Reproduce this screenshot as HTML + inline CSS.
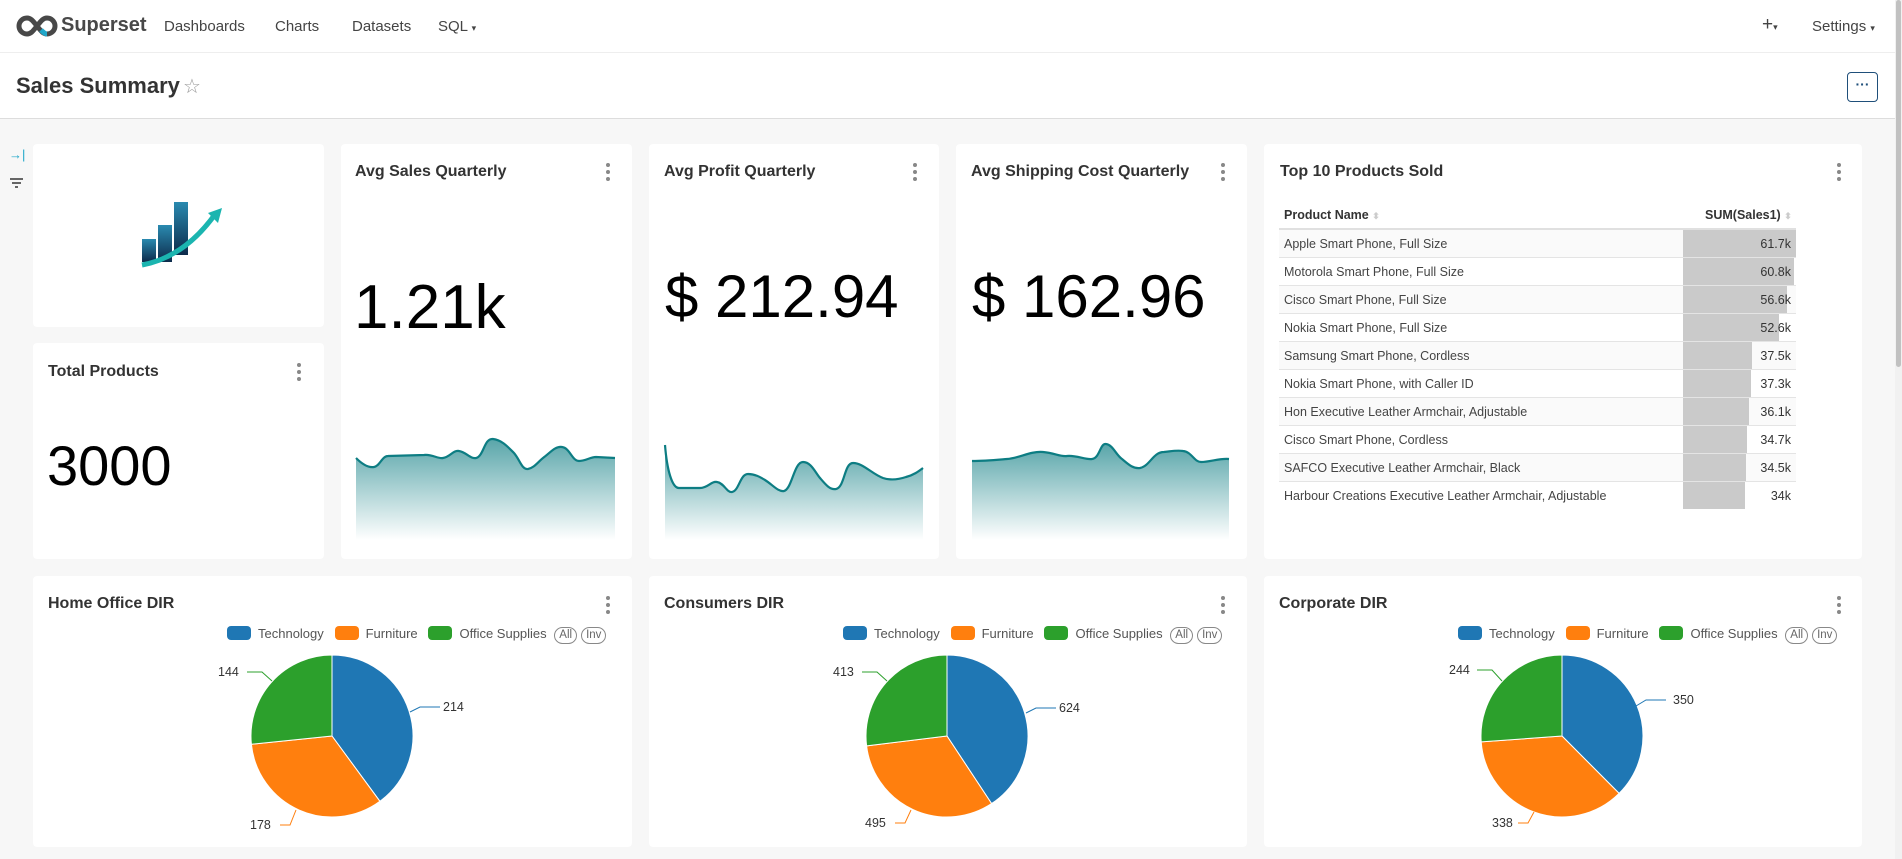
<!DOCTYPE html>
<html><head><meta charset="utf-8"><style>
*{margin:0;padding:0;box-sizing:border-box}
body{width:1902px;height:859px;overflow:hidden;background:#f7f7f7;font-family:"Liberation Sans",sans-serif;color:#333;position:relative}
.a{position:absolute}
.card{position:absolute;background:#fff;border-radius:4px}
.t{position:absolute;font-size:16px;font-weight:bold;color:#333;white-space:nowrap}
.keb{position:absolute;width:4px}
.keb i{display:block;width:4px;height:4px;border-radius:2px;background:#888;margin-bottom:3px}
.nav{font-size:15px;color:#444;position:absolute;top:18px}
.big{position:absolute;font-size:62px;color:#000;white-space:nowrap}
.row{position:absolute;left:1279px;width:517px;height:28px;border-bottom:1px solid #e4e4e4;font-size:12.5px;color:#444}
.row span{position:absolute;left:5px;top:7px}
.row .bar{position:absolute;left:404px;top:0;height:27px;background:#cacaca}
.row b{position:absolute;right:5px;top:7px;font-weight:normal;color:#333}
.lg{position:absolute;font-size:13px;color:#555;white-space:nowrap}
.box{display:inline-block;width:24px;height:14px;border-radius:4px;vertical-align:-2px;margin-right:7px}
.pill{display:inline-block;border:1px solid #888;border-radius:9px;font-size:11.5px;padding:0 4px;height:17px;line-height:15px;color:#666;margin-left:4px}
</style></head><body>
<div class="a" style="left:0;top:0;width:1902px;height:53px;background:#fff;border-bottom:1px solid #eee"></div>
<svg class="a" style="left:16px;top:15px" width="42" height="22" viewBox="0 0 42 22"><path d="M11 3a8 8 0 1 0 0 16c4 0 6-3 10-8s6-8 10-8a8 8 0 1 1 0 16c-4 0-6-3-10-8S15 3 11 3z" fill="none" stroke="#484848" stroke-width="5"/><path d="M25 15c2 2 4 4 6 4" stroke="#20a7c9" stroke-width="5" fill="none"/></svg>
<div class="a" style="left:61px;top:14px;font-size:20px;font-weight:bold;color:#484848">Superset</div>
<div class="nav" style="left:164px">Dashboards</div>
<div class="nav" style="left:275px">Charts</div>
<div class="nav" style="left:352px">Datasets</div>
<div class="nav" style="left:438px">SQL <span style="font-size:9px">▾</span></div>
<div class="nav" style="left:1762px;font-size:19px;top:14px">+<span style="font-size:9px">▾</span></div>
<div class="nav" style="left:1812px">Settings <span style="font-size:9px">▾</span></div>
<div class="a" style="left:0;top:53px;width:1902px;height:66px;background:#fff;border-bottom:1px solid #ddd"></div>
<div class="a" style="left:16px;top:73px;font-size:22px;font-weight:bold;color:#333">Sales Summary</div>
<div class="a" style="left:183px;top:74px;font-size:20px;color:#999">☆</div>
<div class="a" style="left:1847px;top:72px;width:31px;height:30px;border:1px solid #1f4f7a;border-radius:4px;text-align:center;font-size:14px;font-weight:bold;color:#1f4f7a;line-height:22px">···</div>
<div class="a" style="left:1895px;top:0;width:7px;height:859px;background:#f1f1f1"></div>
<div class="a" style="left:1896px;top:0;width:5px;height:367px;background:#c1c1c1;border-radius:3px"></div>
<div class="a" style="left:9px;top:147px;font-size:13px;color:#20a7c9">→|</div>
<div class="a" style="left:10px;top:178px;width:13px;height:2px;background:#666"></div>
<div class="a" style="left:12px;top:182px;width:9px;height:2px;background:#666"></div>
<div class="a" style="left:15px;top:186px;width:3px;height:2px;background:#666"></div>
<div class="card" style="left:33px;top:144px;width:291px;height:183px"></div>
<svg class="a" style="left:130px;top:195px" width="100" height="80">
<defs><linearGradient id="bg" x1="0" y1="0" x2="0" y2="1"><stop offset="0" stop-color="#2a8ab0"/><stop offset="1" stop-color="#0d2a4a"/></linearGradient></defs>
<rect x="12" y="44" width="14" height="23" fill="url(#bg)"/><rect x="28" y="30" width="14" height="37" fill="url(#bg)"/><rect x="44" y="7" width="14" height="53" fill="url(#bg)"/>
<path d="M12 70 Q55 62 86 18" stroke="#1bb5b0" stroke-width="5" fill="none"/><path d="M78 18 L92 13 L88 28Z" fill="#1bb5b0"/></svg>
<div class="card" style="left:33px;top:343px;width:291px;height:216px"></div>
<div class="t" style="left:48px;top:363px">Total Products</div>
<div class="keb" style="left:297px;top:363px"><i></i><i></i><i></i></div>
<div class="big" style="left:47px;top:433px;font-size:56px">3000</div>
<div class="card" style="left:341px;top:144px;width:291px;height:415px"></div>
<div class="t" style="left:355px;top:163px">Avg Sales Quarterly</div>
<div class="keb" style="left:606px;top:163px"><i></i><i></i><i></i></div>
<div class="big" style="left:354px;top:272px">1.21k</div>
<div class="card" style="left:649px;top:144px;width:290px;height:415px"></div>
<div class="t" style="left:664px;top:163px">Avg Profit Quarterly</div>
<div class="keb" style="left:913px;top:163px"><i></i><i></i><i></i></div>
<div class="big" style="left:665px;top:262px;font-size:60px">$ 212.94</div>
<div class="card" style="left:956px;top:144px;width:291px;height:415px"></div>
<div class="t" style="left:971px;top:163px">Avg Shipping Cost Quarterly</div>
<div class="keb" style="left:1221px;top:163px"><i></i><i></i><i></i></div>
<div class="big" style="left:972px;top:262px;font-size:60px">$ 162.96</div>
<svg class="a" style="left:0;top:0" width="1902" height="859">
<defs><linearGradient id="tg" x1="0" y1="0" x2="0" y2="1"><stop offset="0" stop-color="#2f8f94" stop-opacity="0.8"/><stop offset="1" stop-color="#2f8f94" stop-opacity="0"/></linearGradient></defs>
<g fill="url(#tg)" stroke="none">
<path id="s1" d="M356 458 C362 464 368 468 374 467 C380 466 382 456 388 456 L424 455 C432 454 438 459 443 458 C450 457 453 450 459 451 C466 452 470 459 476 458 C484 456 484 438 493 439 C502 440 508 447 514 453 C520 460 522 470 528 469 C534 468 538 462 543 458 C550 453 555 446 562 447 C570 448 572 461 579 461 C586 461 590 457 596 457 L615 458 L615 540 L356 540Z"/>
<path d="M665 445 C667 470 672 488 679 488 L700 488 C708 488 711 481 717 482 C724 483 727 493 732 492 C739 491 740 474 748 474 C755 474 760 477 765 480 C773 485 778 492 784 491 C792 489 794 462 803 462 C811 462 815 472 820 478 C826 485 830 490 836 489 C845 487 844 463 853 463 C863 463 872 474 883 478 C892 481 900 479 906 477 C914 475 919 471 923 468 L923 540 L665 540Z"/>
<path d="M972 461 C985 461 995 460 1007 459 C1020 458 1030 451 1043 452 C1055 453 1060 457 1067 456 C1076 455 1086 460 1092 459 C1100 458 1100 443 1106 444 C1113 445 1116 455 1122 459 C1128 464 1133 469 1140 468 C1150 466 1153 452 1164 452 C1173 451 1177 450 1183 451 C1192 452 1194 462 1201 462 C1210 462 1220 458 1229 459 L1229 540 L972 540Z"/>
</g>
<g fill="none" stroke="#0d7d83" stroke-width="2.2" stroke-linejoin="round">
<path d="M356 458 C362 464 368 468 374 467 C380 466 382 456 388 456 L424 455 C432 454 438 459 443 458 C450 457 453 450 459 451 C466 452 470 459 476 458 C484 456 484 438 493 439 C502 440 508 447 514 453 C520 460 522 470 528 469 C534 468 538 462 543 458 C550 453 555 446 562 447 C570 448 572 461 579 461 C586 461 590 457 596 457 L615 458"/>
<path d="M665 445 C667 470 672 488 679 488 L700 488 C708 488 711 481 717 482 C724 483 727 493 732 492 C739 491 740 474 748 474 C755 474 760 477 765 480 C773 485 778 492 784 491 C792 489 794 462 803 462 C811 462 815 472 820 478 C826 485 830 490 836 489 C845 487 844 463 853 463 C863 463 872 474 883 478 C892 481 900 479 906 477 C914 475 919 471 923 468"/>
<path d="M972 461 C985 461 995 460 1007 459 C1020 458 1030 451 1043 452 C1055 453 1060 457 1067 456 C1076 455 1086 460 1092 459 C1100 458 1100 443 1106 444 C1113 445 1116 455 1122 459 C1128 464 1133 469 1140 468 C1150 466 1153 452 1164 452 C1173 451 1177 450 1183 451 C1192 452 1194 462 1201 462 C1210 462 1220 458 1229 459"/>
</g></svg>
<div class="card" style="left:1264px;top:144px;width:598px;height:415px"></div>
<div class="t" style="left:1280px;top:163px">Top 10 Products Sold</div>
<div class="keb" style="left:1837px;top:163px"><i></i><i></i><i></i></div>
<div class="a" style="left:1284px;top:208px;font-size:12.5px;font-weight:bold;color:#333">Product Name <span style="color:#ccc;font-size:9px">⬍</span></div>
<div class="a" style="left:1705px;top:208px;font-size:12.5px;font-weight:bold;color:#333">SUM(Sales1) <span style="color:#ccc;font-size:9px">⬍</span></div>
<div class="a" style="left:1279px;top:228px;width:517px;height:2px;background:#e0e0e0"></div>
<div class="row" style="top:230px;background:#fafafa"><div class="bar" style="width:113px"></div><span>Apple Smart Phone, Full Size</span><b>61.7k</b></div>
<div class="row" style="top:258px"><div class="bar" style="width:111px"></div><span>Motorola Smart Phone, Full Size</span><b>60.8k</b></div>
<div class="row" style="top:286px;background:#fafafa"><div class="bar" style="width:104px"></div><span>Cisco Smart Phone, Full Size</span><b>56.6k</b></div>
<div class="row" style="top:314px"><div class="bar" style="width:96px"></div><span>Nokia Smart Phone, Full Size</span><b>52.6k</b></div>
<div class="row" style="top:342px;background:#fafafa"><div class="bar" style="width:69px"></div><span>Samsung Smart Phone, Cordless</span><b>37.5k</b></div>
<div class="row" style="top:370px"><div class="bar" style="width:68px"></div><span>Nokia Smart Phone, with Caller ID</span><b>37.3k</b></div>
<div class="row" style="top:398px;background:#fafafa"><div class="bar" style="width:66px"></div><span>Hon Executive Leather Armchair, Adjustable</span><b>36.1k</b></div>
<div class="row" style="top:426px"><div class="bar" style="width:64px"></div><span>Cisco Smart Phone, Cordless</span><b>34.7k</b></div>
<div class="row" style="top:454px;background:#fafafa"><div class="bar" style="width:63px"></div><span>SAFCO Executive Leather Armchair, Black</span><b>34.5k</b></div>
<div class="row" style="top:482px;border-bottom:none"><div class="bar" style="width:62px"></div><span>Harbour Creations Executive Leather Armchair, Adjustable</span><b>34k</b></div>
<div class="card" style="left:33px;top:576px;width:599px;height:271px"></div>
<div class="card" style="left:649px;top:576px;width:598px;height:271px"></div>
<div class="card" style="left:1264px;top:576px;width:598px;height:271px"></div>
<div class="t" style="left:48px;top:595px">Home Office DIR</div>
<div class="t" style="left:664px;top:595px">Consumers DIR</div>
<div class="t" style="left:1279px;top:595px">Corporate DIR</div>
<div class="keb" style="left:606px;top:596px"><i></i><i></i><i></i></div>
<div class="keb" style="left:1221px;top:596px"><i></i><i></i><i></i></div>
<div class="keb" style="left:1837px;top:596px"><i></i><i></i><i></i></div>
<div class="lg" style="left:227px;top:626px"><span class="box" style="background:#1f77b4"></span>Technology&nbsp;&nbsp;&nbsp;<span class="box" style="background:#ff7f0e"></span>Furniture&nbsp;&nbsp;&nbsp;<span class="box" style="background:#2ca02c"></span>Office Supplies <span class="pill">All</span><span class="pill">Inv</span></div>
<div class="lg" style="left:843px;top:626px"><span class="box" style="background:#1f77b4"></span>Technology&nbsp;&nbsp;&nbsp;<span class="box" style="background:#ff7f0e"></span>Furniture&nbsp;&nbsp;&nbsp;<span class="box" style="background:#2ca02c"></span>Office Supplies <span class="pill">All</span><span class="pill">Inv</span></div>
<div class="lg" style="left:1458px;top:626px"><span class="box" style="background:#1f77b4"></span>Technology&nbsp;&nbsp;&nbsp;<span class="box" style="background:#ff7f0e"></span>Furniture&nbsp;&nbsp;&nbsp;<span class="box" style="background:#2ca02c"></span>Office Supplies <span class="pill">All</span><span class="pill">Inv</span></div>
<svg class="a" style="left:0;top:0" width="1902" height="859" font-family="Liberation Sans" font-size="12.5" fill="#333">
<g transform="translate(332,736)" stroke="#fff" stroke-width="1">
<path d="M0 0 L0 -81 A81 81 0 0 1 47.9 65.3Z" fill="#1f77b4"/>
<path d="M0 0 L47.9 65.3 A81 81 0 0 1 -80.6 8.3Z" fill="#ff7f0e"/>
<path d="M0 0 L-80.6 8.3 A81 81 0 0 1 0 -81Z" fill="#2ca02c"/>
</g>
<g fill="none" stroke-width="1"><polyline points="410,712 420,707 440,707" stroke="#1f77b4"/><polyline points="272,681 262,672 247,672" stroke="#2ca02c"/><polyline points="296,810 290,825 280,825" stroke="#ff7f0e"/></g>
<text x="443" y="711">214</text><text x="218" y="676">144</text><text x="250" y="829">178</text>
<g transform="translate(947,736)" stroke="#fff" stroke-width="1">
<path d="M0 0 L0 -81 A81 81 0 0 1 44.6 67.6Z" fill="#1f77b4"/>
<path d="M0 0 L44.6 67.6 A81 81 0 0 1 -80.4 9.9Z" fill="#ff7f0e"/>
<path d="M0 0 L-80.4 9.9 A81 81 0 0 1 0 -81Z" fill="#2ca02c"/>
</g>
<g fill="none" stroke-width="1"><polyline points="1026,713 1036,708 1056,708" stroke="#1f77b4"/><polyline points="887,681 877,672 862,672" stroke="#2ca02c"/><polyline points="911,810 905,823 895,823" stroke="#ff7f0e"/></g>
<text x="1059" y="712">624</text><text x="833" y="676">413</text><text x="865" y="827">495</text>
<g transform="translate(1562,736)" stroke="#fff" stroke-width="1">
<path d="M0 0 L0 -81 A81 81 0 0 1 57.1 57.4Z" fill="#1f77b4"/>
<path d="M0 0 L57.1 57.4 A81 81 0 0 1 -80.8 5.9Z" fill="#ff7f0e"/>
<path d="M0 0 L-80.8 5.9 A81 81 0 0 1 0 -81Z" fill="#2ca02c"/>
</g>
<g fill="none" stroke-width="1"><polyline points="1636,706 1646,700 1666,700" stroke="#1f77b4"/><polyline points="1502,681 1492,670 1477,670" stroke="#2ca02c"/><polyline points="1534,812 1528,823 1518,823" stroke="#ff7f0e"/></g>
<text x="1673" y="704">350</text><text x="1449" y="674">244</text><text x="1492" y="827">338</text>
</svg>
</body></html>
